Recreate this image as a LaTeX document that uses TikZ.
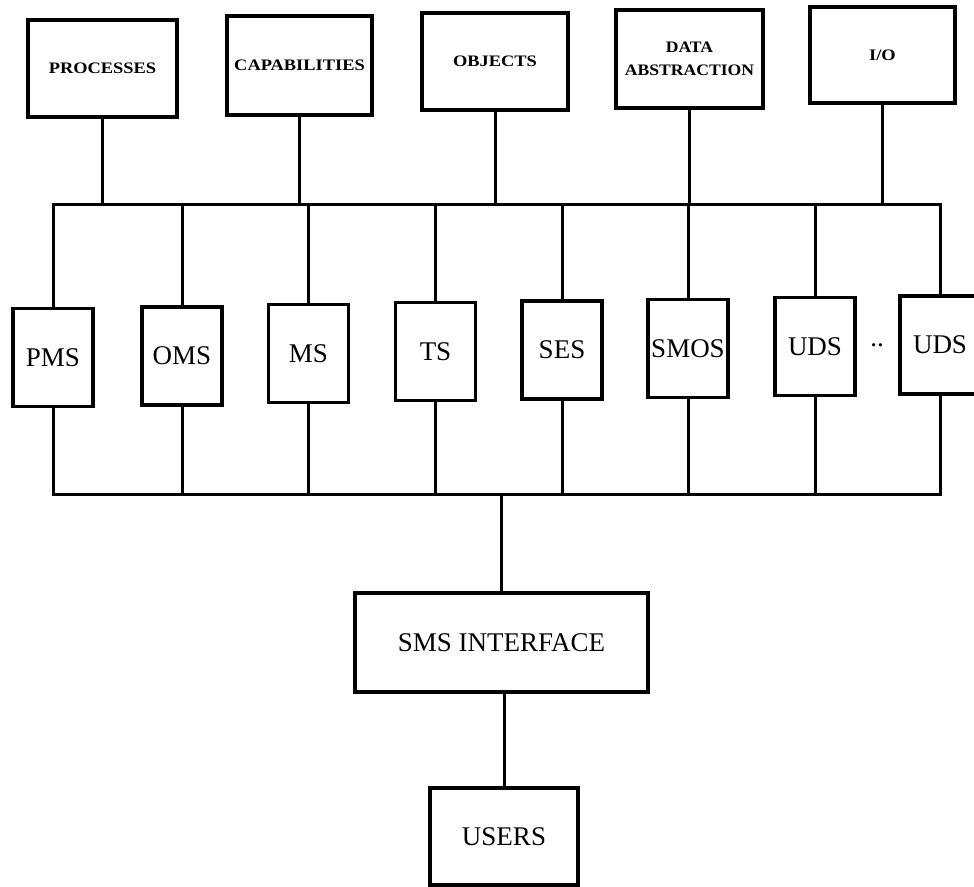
\documentclass[tikz,border=0pt]{standalone}
\usepackage{fontspec}
\setmainfont{Liberation Serif}
\begin{document}
\begin{tikzpicture}[x=1pt,y=-1pt,
  wire/.style={line width=3pt},
  topbox/.style={draw,line width=3.2pt,rectangle,inner sep=0pt,align=center,
    font=\bfseries\fontsize{16}{21}\selectfont},
  srvbox/.style={draw,line width=3.2pt,rectangle,inner sep=0pt,
    minimum width=80pt,minimum height=98pt,font=\fontsize{27}{30}\selectfont},
  ifbox/.style={draw,line width=3.2pt,rectangle,inner sep=0pt,
    font=\fontsize{27}{30}\selectfont}]
\useasboundingbox (0,0) rectangle (974,886);
\begin{scope}
\clip (0,0) rectangle (974,886);

% upper row of concept boxes
\node[topbox,minimum width=149pt,minimum height=97pt] (proc) at (102.5,68.5) {\scalebox{1.15}[1]{PROCESSES}};
\node[topbox,minimum width=145pt,minimum height=99pt] (capa) at (299.5,65.5) {\scalebox{1.15}[1]{CAPABILITIES}};
\node[topbox,minimum width=146pt,minimum height=97pt] (objs) at (495,61.5) {\scalebox{1.15}[1]{OBJECTS}};
\node[topbox,minimum width=147pt,minimum height=98pt] (data) at (689.5,59) {\scalebox{1.1}[1]{DATA}\\[2pt]\scalebox{1.1}[1]{ABSTRACTION}};
\node[topbox,minimum width=145pt,minimum height=96pt] (io) at (882.5,55) {\scalebox{1.15}[1]{I/O}};

% bus levels
\coordinate (tb) at (0,204);
\coordinate (bb) at (0,494);

% server boxes
\node[srvbox] (pms)  at (53,357.5)  {PMS};
\node[srvbox] (oms)  at (182,356)   {OMS};
\node[srvbox] (ms)   at (308.5,353.5) {MS};
\node[srvbox] (ts)   at (435.5,351.5) {TS};
\node[srvbox] (ses)  at (562,350)   {SES};
\node[srvbox] (smos) at (688,348.5) {SMOS};
\node[srvbox] (uds)  at (815,346.5) {UDS};
\node[srvbox] (udsn) at (940,345)   {UDS};
\node[font=\fontsize{27}{30}\selectfont] (dots) at (877,345) {..};

% interface and users
\node[ifbox,minimum width=293pt,minimum height=99pt] (sms) at (501.5,642.5) {SMS INTERFACE};
\node[ifbox,minimum width=148pt,minimum height=97pt] (users) at (504,836.5) {USERS};

% upper bus
\draw[wire] (pms.north) |- (udsn.north |- tb) -- (udsn.north);
\foreach \n in {oms,ms,ts,ses,smos,uds}
  \draw[wire] (\n.north) -- (\n.north |- tb);
\foreach \n in {proc,capa,objs,data,io}
  \draw[wire] (\n.south) -- (\n.south |- tb);

% lower bus
\draw[wire] (pms.south) |- (udsn.south |- bb) -- (udsn.south);
\foreach \n in {oms,ms,ts,ses,smos,uds}
  \draw[wire] (\n.south) -- (\n.south |- bb);
\draw[wire] (sms.north |- bb) -- (sms.north);
\draw[wire] (users.north |- sms.south) -- (users.north);
\end{scope}
\end{tikzpicture}
\end{document}
